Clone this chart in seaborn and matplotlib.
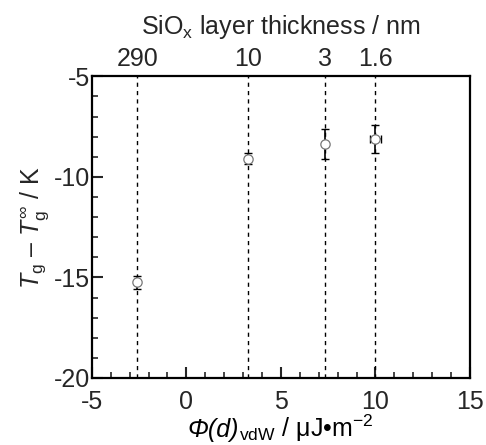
import numpy as np
import matplotlib
matplotlib.use("Agg")
import matplotlib.pyplot as plt
from matplotlib.offsetbox import TextArea, HPacker, AnchoredOffsetbox
import seaborn as sns
import pandas as pd

# data
phi = [-2.6, 3.25, 7.35, 10.0]
dTg = [-15.25, -9.1, -8.38, -8.1]
dTg_err = [0.33, 0.27, 0.75, 0.7]
phi_err = [0.0, 0.0, 0.0, 0.3]
thickness_labels = ["290", "10", "3", "1.6"]

sns.set_theme(style="ticks")
plt.rcParams['font.family'] = ['Liberation Sans', 'DejaVu Sans']
plt.rcParams['mathtext.fontset'] = 'custom'
plt.rcParams['mathtext.rm'] = 'Liberation Sans'
plt.rcParams['mathtext.it'] = 'Liberation Sans:italic'
plt.rcParams['mathtext.bf'] = 'Liberation Sans:bold'
plt.rcParams['axes.unicode_minus'] = False

fig = plt.figure(figsize=(4.86, 4.45), dpi=100)
ax = fig.add_axes([0.189, 0.1506, 0.778, 0.678])

for x in phi:
    ax.axvline(x, color='black', linestyle=(0, (3, 3)), linewidth=1.0, zorder=1)

ax.errorbar(phi, dTg, yerr=dTg_err, xerr=phi_err, fmt='none', ecolor='black',
            elinewidth=1.2, capsize=3, capthick=1.0, zorder=2)
df = pd.DataFrame({"phi": phi, "dTg": dTg})
sns.scatterplot(data=df, x="phi", y="dTg", ax=ax, marker='o', s=45,
                facecolor='white', edgecolor='#777777', linewidth=0.9, zorder=3)

ax.set_xlim(-5, 15)
ax.set_ylim(-20, -5)
ax.set_xticks([-5, 0, 5, 10, 15])
ax.set_yticks([-20, -15, -10, -5])
ax.set_xticks(np.arange(-4, 15, 1), minor=True)
ax.set_yticks(np.arange(-19, -5, 1), minor=True)
ax.tick_params(axis='x', which='major', pad=9)
ax.tick_params(axis='y', which='major', pad=1)
ax.tick_params(which='major', direction='in', length=8, width=1.5, labelsize=18,
               top=False, right=False)
ax.tick_params(which='minor', direction='in', length=4.5, width=1.2,
               top=False, right=False)
for s in ax.spines.values():
    s.set_linewidth(1.6)
    s.set_color('black')

ax.set_xlabel("")
ax.set_ylabel(r"$T_{\rm g}$ – $T_{\rm g}^{\infty}$ / K", fontsize=18, labelpad=2)

# x label with italic Φ(d)
t1 = TextArea("Φ(d)", textprops=dict(fontsize=18, style='italic', color='black'))
t2 = TextArea(r"$_{\rm vdW}$ / μJ•m$^{-2}$", textprops=dict(fontsize=18, color='black'))
box = HPacker(children=[t1, t2], align='baseline', pad=0, sep=0)
anch = AnchoredOffsetbox(loc='upper center', child=box, pad=0, frameon=False,
                         bbox_to_anchor=(0.5, -0.115), bbox_transform=ax.transAxes,
                         borderpad=0)
ax.add_artist(anch)

top = ax.secondary_xaxis('top')
top.set_xticks(phi)
top.set_xticklabels(thickness_labels)
top.tick_params(length=0, labelsize=18, pad=4)
top.set_xlabel(r"SiO$_{\rm x}$ layer thickness / nm", fontsize=18, labelpad=9)

fig.savefig("out.png", dpi=100)
